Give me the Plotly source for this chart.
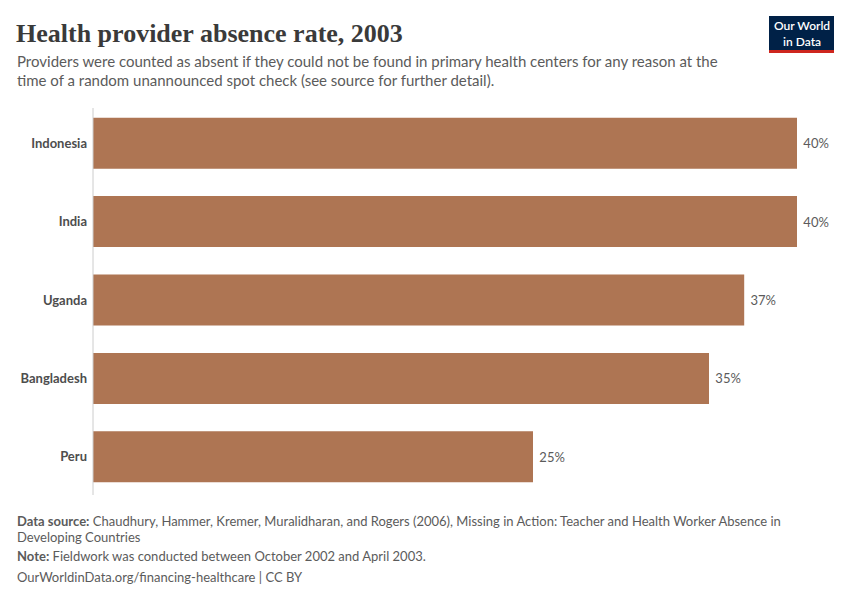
import plotly.graph_objects as go

countries = ["Indonesia", "India", "Uganda", "Bangladesh", "Peru"]
absence_rate = [40, 40, 37, 35, 25]
value_labels = ["40%", "40%", "37%", "35%", "25%"]

W, H = 850, 600
L, R, T, B = 93, 53, 104, 104
PW, PH = W - L - R, H - T - B

def px(x):
    return (x - L) / PW

def py(y):
    return (H - B - y) / PH

fig = go.Figure()
fig.add_trace(go.Bar(
    x=absence_rate, y=countries, orientation="h",
    marker=dict(color="#ae7553", line=dict(width=0)),
    text=[" " + v for v in value_labels], textposition="outside",
    textfont=dict(family="Lato", size=13, color="#5b5b5b"),
    cliponaxis=False, hoverinfo="skip",
))

fig.update_layout(
    width=W, height=H,
    margin=dict(l=L, r=R, t=T, b=B),
    paper_bgcolor="white", plot_bgcolor="white",
    bargap=0.35, showlegend=False,
    font=dict(family="Lato", color="#5b5b5b"),
    xaxis=dict(range=[0, 40], visible=False, fixedrange=True),
    yaxis=dict(
        categoryorder="array", categoryarray=countries[::-1],
        range=[-0.5, 4.5], showgrid=False, zeroline=False,
        showline=False, ticks="", ticklabelstandoff=5,
        fixedrange=True,
        tickfont=dict(family="Lato", size=13, color="#4d4d4d", weight="bold"),
    ),
)

# vertical axis line
fig.add_shape(type="line", xref="paper", yref="paper",
              x0=0, x1=0, y0=py(495), y1=py(108),
              line=dict(color="#cccccc", width=1))

def note(x, y, text, size, color="#5b5b5b", family="Lato", weight=None):
    f = dict(family=family, size=size, color=color)
    if weight:
        f["weight"] = weight
    fig.add_annotation(xref="paper", yref="paper", x=px(x), y=py(y),
                       xanchor="left", yanchor="middle", showarrow=False,
                       align="left", text=text, font=f)

note(14, 33, "Health provider absence rate, 2003", 26, "#3a3a3a", "Liberation Serif, serif", 600)
note(15, 61, "Providers were counted as absent if they could not be found in primary health centers for any reason at the", 15)
note(15, 80, "time of a random unannounced spot check (see source for further detail).", 15)

note(15, 521, "<b>Data source:</b> Chaudhury, Hammer, Kremer, Muralidharan, and Rogers (2006), Missing in Action: Teacher and Health Worker Absence in", 13)
note(15, 537, "Developing Countries", 13)
note(15, 556, "<b>Note:</b> Fieldwork was conducted between October 2002 and April 2003.", 13)
note(15, 577, "OurWorldinData.org/financing-healthcare | CC BY", 13)

# logo
fig.add_shape(type="rect", xref="paper", yref="paper",
              x0=px(769), x1=px(834), y0=py(50), y1=py(16),
              fillcolor="#002147", line=dict(width=0), layer="above")
fig.add_shape(type="rect", xref="paper", yref="paper",
              x0=px(769), x1=px(834), y0=py(53), y1=py(50),
              fillcolor="#ce261e", line=dict(width=0), layer="above")
fig.add_annotation(xref="paper", yref="paper", x=px(801.5), y=py(33),
                   xanchor="center", yanchor="middle", showarrow=False,
                   text="Our World<br>in Data",
                   font=dict(family="Lato", size=12, color="white", weight=600))

fig.write_html("out.html", config={"displayModeBar": False},
               post_script="document.body.style.margin='0';document.body.style.padding='0';")
